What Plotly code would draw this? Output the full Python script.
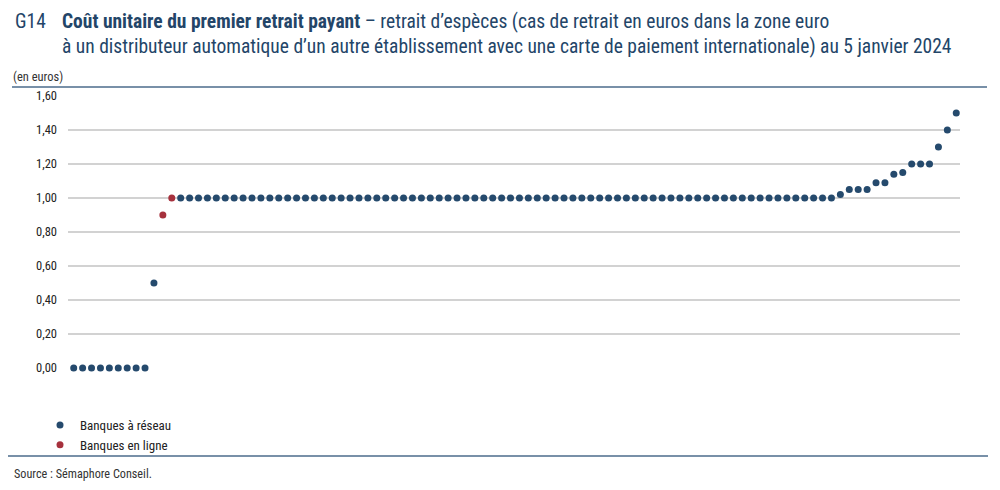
import plotly.graph_objects as go

# coût du premier retrait payant, établissements classés par ordre croissant (en euros)
couts = [
    0.00, 0.00, 0.00, 0.00, 0.00, 0.00, 0.00, 0.00, 0.00, 0.50,
    0.90, 1.00, 1.00, 1.00, 1.00, 1.00, 1.00, 1.00, 1.00, 1.00,
    1.00, 1.00, 1.00, 1.00, 1.00, 1.00, 1.00, 1.00, 1.00, 1.00,
    1.00, 1.00, 1.00, 1.00, 1.00, 1.00, 1.00, 1.00, 1.00, 1.00,
    1.00, 1.00, 1.00, 1.00, 1.00, 1.00, 1.00, 1.00, 1.00, 1.00,
    1.00, 1.00, 1.00, 1.00, 1.00, 1.00, 1.00, 1.00, 1.00, 1.00,
    1.00, 1.00, 1.00, 1.00, 1.00, 1.00, 1.00, 1.00, 1.00, 1.00,
    1.00, 1.00, 1.00, 1.00, 1.00, 1.00, 1.00, 1.00, 1.00, 1.00,
    1.00, 1.00, 1.00, 1.00, 1.00, 1.00, 1.02, 1.05, 1.05, 1.05,
    1.09, 1.09, 1.14, 1.15, 1.20, 1.20, 1.20, 1.30, 1.40, 1.50,
]
# positions (rang) des banques en ligne, les autres sont des banques à réseau
rangs_en_ligne = [11, 12]

rangs = list(range(1, len(couts) + 1))
x_reseau = [r for r in rangs if r not in rangs_en_ligne]
y_reseau = [couts[r - 1] for r in x_reseau]
x_ligne = rangs_en_ligne
y_ligne = [couts[r - 1] for r in x_ligne]

y_ticks = [0, 0.2, 0.4, 0.6, 0.8, 1.0, 1.2, 1.4, 1.6]

BLEU = "#254a6d"
ROUGE = "#a6313d"
FONT = "Roboto Condensed, DejaVu Sans Condensed, Liberation Sans Narrow, Liberation Sans, sans-serif"

fig = go.Figure()
fig.add_trace(go.Scatter(
    x=x_reseau, y=y_reseau, mode="markers", name="Banques à réseau",
    marker=dict(color=BLEU, size=7), cliponaxis=False,
))
fig.add_trace(go.Scatter(
    x=x_ligne, y=y_ligne, mode="markers", name="Banques en ligne",
    marker=dict(color=ROUGE, size=7), cliponaxis=False,
))

W, H = 1000, 490
ml, mr, mt, mb = 68, 40, 96, 122
pw = W - ml - mr
ph = H - mt - mb


def px_x(x):
    return (x - ml) / pw


def px_y(y):
    return 1 - (y - mt) / ph


fig.update_layout(
    width=W, height=H,
    margin=dict(l=ml, r=mr, t=mt, b=mb, autoexpand=False),
    paper_bgcolor="white", plot_bgcolor="white",
    separators=", ",
    font=dict(family=FONT, size=12, color="#222"),
    showlegend=True,
    legend=dict(
        x=px_x(40), xanchor="left", y=px_y(410), yanchor="top",
        font=dict(size=13, color="#222"), tracegroupgap=0,
        itemsizing="trace", itemwidth=30, bgcolor="rgba(0,0,0,0)",
    ),
    xaxis=dict(range=[0.36, 100.42], visible=False, fixedrange=True),
    yaxis=dict(
        range=[0, 1.6], tickvals=y_ticks, tickformat=".2f",
        showgrid=True, gridcolor="#d2d2d2", gridwidth=1.5,
        zeroline=False, showline=False, ticks="", ticklabelstandoff=10,
        tickfont=dict(size=12.5, color="#222"), fixedrange=True,
    ),
)

# titre
fig.add_annotation(
    xref="paper", yref="paper", x=px_x(13), y=px_y(8),
    xanchor="left", yanchor="top", showarrow=False, align="left",
    text="G14",
    font=dict(family=FONT, size=19.5, color="#234568"),
)
fig.add_annotation(
    xref="paper", yref="paper", x=px_x(60), y=px_y(8),
    xanchor="left", yanchor="top", showarrow=False, align="left",
    text="<b>Coût unitaire du premier retrait payant</b> – retrait d’espèces (cas de retrait en euros dans la zone euro"
         "<br>à un distributeur automatique d’un autre établissement avec une carte de paiement internationale) au 5 janvier 2024",
    font=dict(family=FONT, size=19.5, color="#234568"),
)
fig.add_annotation(
    xref="paper", yref="paper", x=px_x(11), y=px_y(67),
    xanchor="left", yanchor="top", showarrow=False,
    text="(en euros)", font=dict(family=FONT, size=12.5, color="#333"),
)
fig.add_annotation(
    xref="paper", yref="paper", x=px_x(12), y=px_y(465),
    xanchor="left", yanchor="top", showarrow=False,
    text="Source : Sémaphore Conseil.", font=dict(family=FONT, size=12.2, color="#333"),
)

# filets haut et bas
fig.add_shape(type="line", xref="paper", yref="paper",
              x0=px_x(12), x1=px_x(987), y0=px_y(87), y1=px_y(87),
              line=dict(color="#7890a8", width=2))
fig.add_shape(type="line", xref="paper", yref="paper",
              x0=px_x(8), x1=px_x(988), y0=px_y(456), y1=px_y(456),
              line=dict(color="#7890a8", width=2))

fig.write_html("out.html", config={"displayModeBar": False},
               post_script="document.body.style.margin='0';")
